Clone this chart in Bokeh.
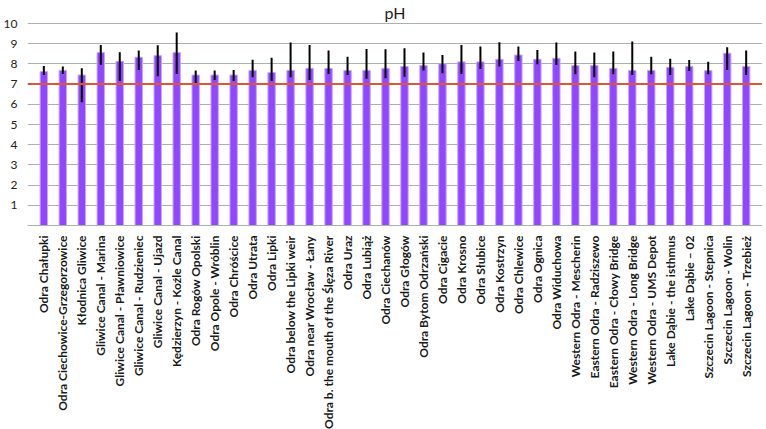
from bokeh.plotting import figure
from bokeh.models import FactorRange, Range1d, Span, FixedTicker, ColumnDataSource
from bokeh.embed import file_html
from bokeh.resources import INLINE
import math

sites = [
    "Odra Chałupki", "Odra Ciechowice-Grzegorzowice", "Kłodnica Gliwice",
    "Gliwice Canal - Marina", "Gliwice Canal - Pławniowice", "Gliwice Canal - Rudzieniec",
    "Gliwice Canal - Ujazd", "Kędzierzyn - Koźle Canal", "Odra Rogów Opolski",
    "Odra Opole - Wróblin", "Odra Chróścice", "Odra Utrata", "Odra Lipki",
    "Odra below the Lipki weir", "Odra near Wrocław - Łany",
    "Odra b. the mouth of the Ślęza River", "Odra Uraz", "Odra Lubiąż",
    "Odra Ciechanów", "Odra Głogów", "Odra Bytom Odrzański", "Odra Cigacie",
    "Odra Krosno", "Odra Słubice", "Odra Kostrzyn", "Odra Chlewice", "Odra Ognica",
    "Odra Widuchowa", "Western Odra - Mescherin", "Eastern Odra - Radziszewo",
    "Eastern Odra - Cłowy Bridge", "Western Odra - Long Bridge",
    "Western Odra - UMS Depot", "Lake Dąbie - the isthmus", "Lake Dąbie – 02",
    "Szczecin Lagoon - Stepnica", "Szczecin Lagoon - Wolin", "Szczecin Lagoon - Trzebież",
]

ph_mean = [7.62, 7.68, 7.45, 8.56, 8.13, 8.33, 8.41, 8.56, 7.45, 7.45, 7.45, 7.68,
           7.58, 7.68, 7.78, 7.78, 7.68, 7.68, 7.78, 7.87, 7.92, 8.00, 8.10, 8.10,
           8.23, 8.44, 8.23, 8.28, 7.92, 7.92, 7.78, 7.68, 7.68, 7.83, 7.88, 7.67,
           8.53, 7.88]
ph_max = [7.90, 7.87, 7.78, 8.94, 8.58, 8.66, 8.92, 9.55, 7.67, 7.67, 7.70, 8.21,
          8.31, 9.06, 8.94, 8.66, 8.36, 8.74, 8.73, 8.78, 8.56, 8.44, 8.94, 8.86,
          9.07, 8.86, 8.69, 9.06, 8.61, 8.56, 8.61, 9.11, 8.36, 8.26, 8.20, 8.11,
          8.82, 8.66]
ph_min = [7.45, 7.50, 6.10, 7.95, 7.15, 7.70, 7.39, 7.50, 7.02, 7.20, 7.15, 7.34,
          7.15, 7.34, 7.20, 7.50, 7.45, 7.27, 7.29, 7.37, 7.68, 7.54, 7.50, 7.75,
          7.87, 8.15, 7.98, 7.95, 7.49, 7.34, 7.49, 7.45, 7.49, 7.45, 7.65, 7.49,
          7.70, 7.45]
y_ticks = [1, 2, 3, 4, 5, 6, 7, 8, 9, 10]
neutral_ph = 7

src = ColumnDataSource(dict(site=sites, mean=ph_mean, lo=ph_min, hi=ph_max))

p = figure(frame_width=735, frame_height=204, output_backend="svg", toolbar_location=None,
           x_range=FactorRange(*sites, range_padding=0.36, range_padding_units="absolute"),
           y_range=Range1d(0, 10.1), title="pH",
           min_border_left=15, min_border_right=0, min_border_top=15, min_border_bottom=0)

p.title.align = "center"
p.title.text_font = "Lato"
p.title.text_font_size = "16px"
p.title.text_font_style = "normal"
p.title.text_color = "#222222"
p.title.standoff = 0

p.outline_line_color = None
p.background_fill_color = "white"

p.vbar(x="site", top="mean", width=0.39, source=src,
       fill_color="#9146FF", line_color="#C8A6FF", line_width=1)
p.segment(x0="site", x1="site", y0="lo", y1="hi", source=src,
          line_color="black", line_width=2)

p.add_layout(Span(location=neutral_ph, dimension="width",
                  line_color="#E2562B", line_width=2))

p.yaxis.ticker = FixedTicker(ticks=y_ticks)
p.yaxis.axis_line_color = None
p.yaxis.major_tick_line_color = None
p.yaxis.minor_tick_line_color = None
p.yaxis.major_label_text_font = "Lato"
p.yaxis.major_label_text_font_size = "12px"
p.yaxis.major_label_text_color = "#222222"
p.yaxis.major_label_standoff = 4

p.ygrid.ticker = FixedTicker(ticks=y_ticks)
p.ygrid.grid_line_color = "#A8B2B2"
p.ygrid.grid_line_width = 1
p.xgrid.grid_line_color = None

p.xaxis.axis_line_color = "#A8B2B2"
p.xaxis.axis_line_width = 1
p.xaxis.major_tick_line_color = None
p.xaxis.minor_tick_line_color = None
p.xaxis.major_label_orientation = math.pi / 2
p.xaxis.major_label_text_font = "Lato"
p.xaxis.major_label_text_font_size = "12px"
p.xaxis.major_label_text_font_style = "bold"
p.xaxis.major_label_text_color = "#1a1a1a"
p.xaxis.major_label_standoff = 4

open("out.html", "w").write(file_html(p, INLINE))
